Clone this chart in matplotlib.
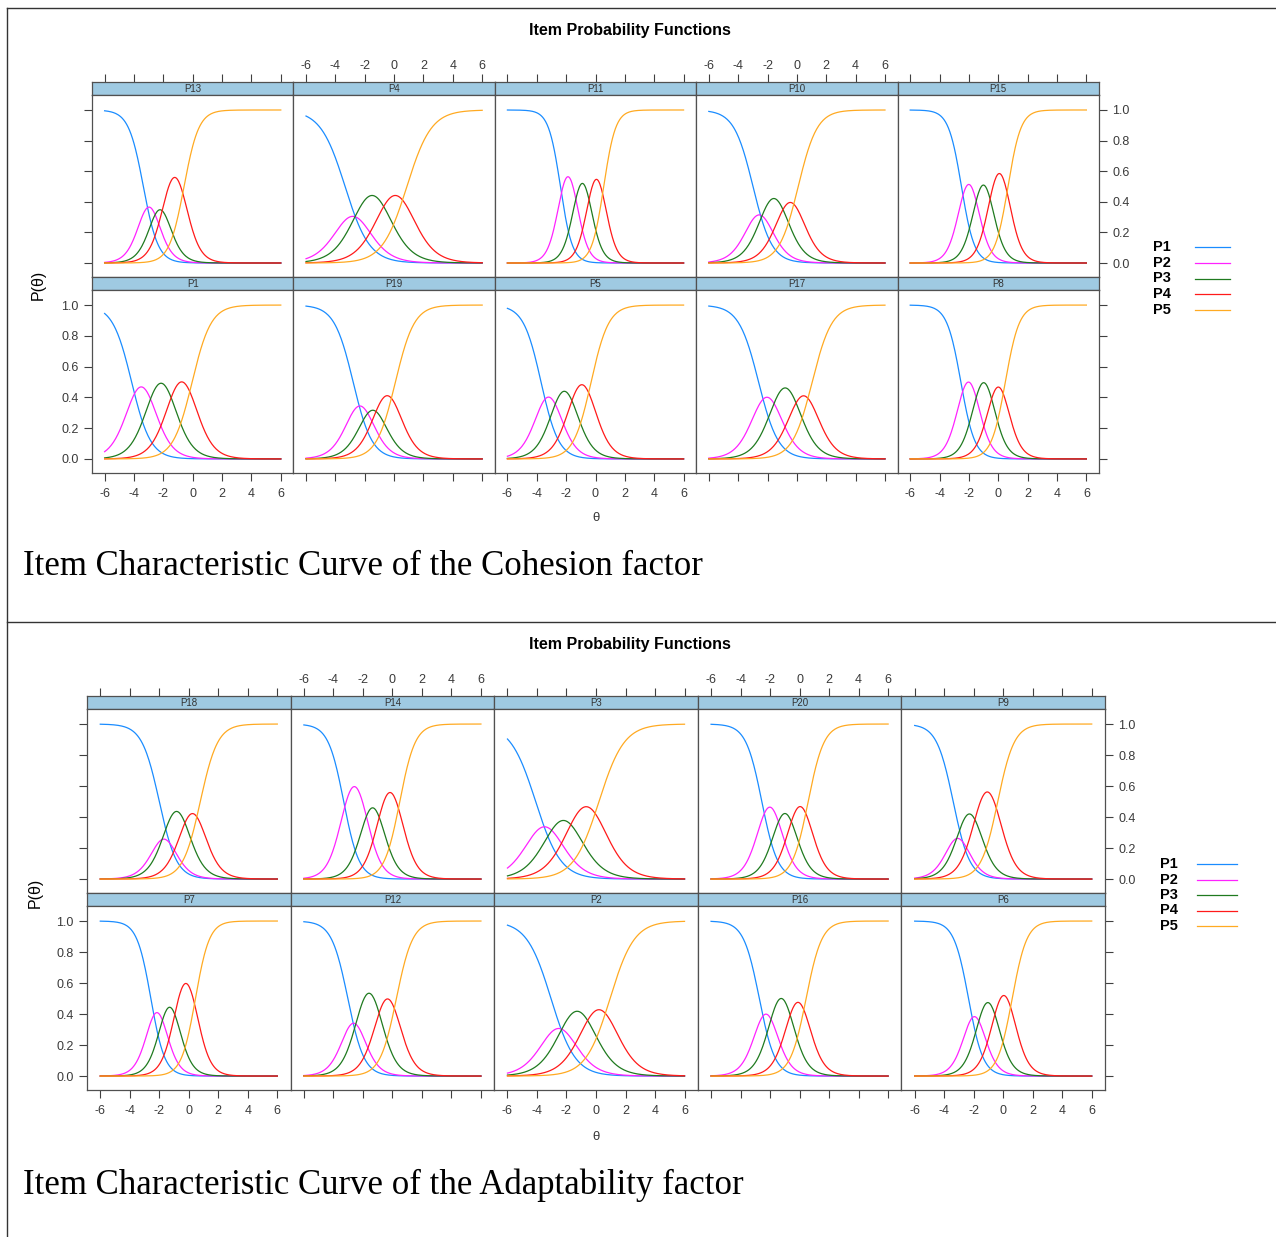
import numpy as np
import matplotlib
matplotlib.use("Agg")
import matplotlib.pyplot as plt
from matplotlib.lines import Line2D

plt.rcParams['font.family'] = ['Liberation Sans', 'DejaVu Sans']

W, H = 1276, 1237
fig = plt.figure(figsize=(W / 100, H / 100), dpi=100)


def fx(x):
    return x / W


def fy(y):
    return 1 - y / H


# ---------------- data (graded response item parameters) ----------------
categories = ["P1", "P2", "P3", "P4", "P5"]
x_ticks = [-6, -4, -2, 0, 2, 4, 6]
y_ticks = [0.0, 0.2, 0.4, 0.6, 0.8, 1.0]
y_tick_labels = ["0.0", "0.2", "0.4", "0.6", "0.8", "1.0"]

cohesion_items = ["P13", "P4", "P11", "P10", "P15", "P1", "P19", "P5", "P17", "P8"]
cohesion_a = [1.99, 1.20, 2.48, 1.55, 2.27, 1.55, 1.56, 1.67, 1.49, 2.11]
cohesion_b1 = [-3.36, -3.34, -2.39, -2.99, -2.51, -4.16, -2.79, -3.71, -2.61, -2.55]
cohesion_b2 = [-2.59, -2.29, -1.36, -2.15, -1.51, -2.85, -1.87, -2.69, -1.47, -1.51]
cohesion_b3 = [-1.86, -0.71, -0.43, -0.99, -0.52, -1.46, -1.03, -1.56, -0.13, -0.48]
cohesion_b4 = [-0.59, 0.87, 0.56, 0.09, 0.66, -0.04, 0.09, -0.30, 1.04, 0.48]

adapt_items = ["P18", "P14", "P3", "P20", "P9", "P7", "P12", "P2", "P16", "P6"]
adapt_a = [1.70, 1.91, 1.17, 1.86, 1.79, 2.12, 1.82, 1.22, 1.88, 2.02]
adapt_b1 = [-2.00, -3.30, -4.09, -2.56, -3.39, -2.57, -3.02, -3.05, -2.73, -2.35]
adapt_b2 = [-1.38, -1.86, -2.89, -1.48, -2.79, -1.75, -2.24, -2.01, -1.83, -1.55]
adapt_b3 = [-0.28, -0.82, -1.53, -0.51, -1.79, -0.85, -0.93, -0.55, -0.66, -0.53]
adapt_b4 = [0.78, 0.50, 0.20, 0.58, -0.37, 0.45, 0.27, 0.95, 0.44, 0.61]

colors = ["#1a8cff", "#ff22ff", "#1f7a1f", "#ff1a1a", "#ffaa22"]
strip_color = "#9fcae2"
frame_color = "#505050"
tick_color = "#404040"
label_color = "#3a3a3a"

theta = np.linspace(-6, 6, 241)


def grm(a, bs):
    pstar = [np.ones_like(theta)]
    pstar += [1.0 / (1.0 + np.exp(-a * (theta - b))) for b in bs]
    pstar += [np.zeros_like(theta)]
    return [pstar[k] - pstar[k + 1] for k in range(5)]


def draw_block(items, a_list, b1, b2, b3, b4, x_edges, strip_tops, panel_bottoms,
               strip_h, ylim, xlim, title_y, ylab_xy, xlab_xy, leg_x, leg_y0, leg_dy,
               leg_line, caption, cap_y):
    for idx, name in enumerate(items):
        r, c = divmod(idx, 5)
        left, right = x_edges[c], x_edges[c + 1]
        s_top = strip_tops[r]
        s_bot = s_top + strip_h
        p_bot = panel_bottoms[r]
        # strip
        ax_s = fig.add_axes([fx(left), fy(s_bot), fx(right) - fx(left), fy(s_top) - fy(s_bot)])
        ax_s.set_facecolor(strip_color)
        ax_s.set_xlim(*xlim)
        ax_s.set_ylim(0, 1)
        ax_s.set_yticks([])
        ax_s.set_xticks(x_ticks)
        ax_s.set_xticklabels([str(t) for t in x_ticks])
        ax_s.tick_params(axis='x', top=(r == 0), bottom=False, labeltop=(r == 0 and c % 2 == 1),
                         labelbottom=False, direction='out', length=5.5, width=0.8,
                         color=tick_color, labelcolor=label_color, labelsize=9, pad=2)
        for sp in ax_s.spines.values():
            sp.set_color(frame_color)
            sp.set_linewidth(0.9)
        ax_s.text(0.5, 0.45, name, transform=ax_s.transAxes, ha='center', va='center',
                  fontsize=7, color='#333333')
        # panel
        ax = fig.add_axes([fx(left), fy(p_bot), fx(right) - fx(left), fy(s_bot) - fy(p_bot)])
        probs = grm(a_list[idx], [b1[idx], b2[idx], b3[idx], b4[idx]])
        for k in range(5):
            ax.plot(theta, probs[k], color=colors[k], lw=0.9)
        ax.set_xlim(*xlim)
        ax.set_ylim(*ylim)
        ax.set_xticks(x_ticks)
        ax.set_xticklabels([str(t) for t in x_ticks])
        ax.set_yticks(y_ticks)
        ax.set_yticklabels(y_tick_labels)
        ax.tick_params(axis='x', bottom=(r == 1), top=False,
                       labelbottom=(r == 1 and c % 2 == 0), labeltop=False, pad=5)
        ax.tick_params(axis='y', left=(c == 0), right=(c == 4),
                       labelleft=(c == 0 and r == 1), labelright=(c == 4 and r == 0), pad=4)
        ax.tick_params(direction='out', length=5.5, width=0.8, color=tick_color,
                       labelcolor=label_color, labelsize=9)
        for sp in ax.spines.values():
            sp.set_color(frame_color)
            sp.set_linewidth(0.9)

    fig.text(fx(630), fy(title_y), "Item Probability Functions", ha='center', va='center',
             fontsize=11.5, fontweight='bold')
    fig.text(fx(ylab_xy[0]), fy(ylab_xy[1]), "P(θ)", rotation=90, ha='center', va='center',
             fontsize=11.5)
    fig.text(fx(xlab_xy[0]), fy(xlab_xy[1]), "θ", ha='center', va='center', fontsize=9.5,
             color=label_color)
    for k, cat in enumerate(categories):
        yy = leg_y0 + k * leg_dy
        fig.text(fx(leg_x), fy(yy), cat, ha='left', va='center', fontsize=10.5, fontweight='bold')
        fig.add_artist(Line2D([fx(leg_line[0]), fx(leg_line[1])], [fy(yy), fy(yy)],
                              color=colors[k], lw=0.9))
    fig.text(fx(23), fy(cap_y), caption, ha='left', va='center', fontsize=25,
             family=['Liberation Serif', 'DejaVu Serif'])


draw_block(cohesion_items, cohesion_a, cohesion_b1, cohesion_b2, cohesion_b3, cohesion_b4,
           x_edges=[92, 293.4, 494.8, 696.2, 897.6, 1099],
           strip_tops=[82, 277], panel_bottoms=[277, 473], strip_h=13,
           ylim=(-0.0915, 1.098), xlim=(-6.86, 6.86), title_y=30,
           ylab_xy=(38, 285), xlab_xy=(596, 518), leg_x=1153, leg_y0=247, leg_dy=15.75,
           leg_line=(1195, 1230), caption="Item Characteristic Curve of the Cohesion factor",
           cap_y=567)

draw_block(adapt_items, adapt_a, adapt_b1, adapt_b2, adapt_b3, adapt_b4,
           x_edges=[87, 290.6, 494.2, 697.8, 901.4, 1105],
           strip_tops=[696, 893], panel_bottoms=[893, 1090], strip_h=13,
           ylim=(-0.09, 1.097), xlim=(-6.9, 6.9), title_y=644,
           ylab_xy=(35, 893), xlab_xy=(596, 1137), leg_x=1160, leg_y0=864, leg_dy=15.5,
           leg_line=(1197, 1237), caption="Item Characteristic Curve of the Adaptability factor",
           cap_y=1185)

# page frame lines
fig.add_artist(Line2D([fx(7), fx(7)], [fy(8), 0], color='#333333', lw=1.0))
fig.add_artist(Line2D([fx(7), 1], [fy(8), fy(8)], color='#333333', lw=1.0))
fig.add_artist(Line2D([fx(7), 1], [fy(622), fy(622)], color='#333333', lw=1.0))

fig.savefig("out.png", dpi=100)
